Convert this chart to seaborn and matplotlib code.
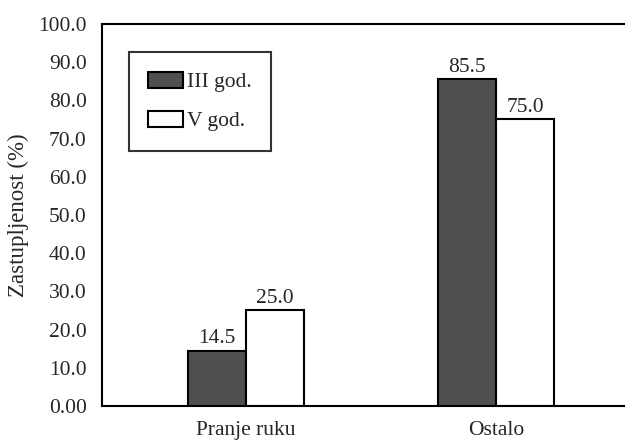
import matplotlib
matplotlib.use("Agg")
import matplotlib.pyplot as plt
import seaborn as sns
import pandas as pd

# podaci
kategorije = ["Pranje ruku", "Ostalo"]
godine = ["III god.", "V god."]
iii_god = [14.5, 85.5]
v_god = [25.0, 75.0]
y_ticks = [0, 10, 20, 30, 40, 50, 60, 70, 80, 90, 100]
y_tick_labels = ["0.00", "10.0", "20.0", "30.0", "40.0", "50.0",
                 "60.0", "70.0", "80.0", "90.0", "100.0"]

df = pd.DataFrame({
    "Kategorija": kategorije * 2,
    "Godina": [godine[0]] * 2 + [godine[1]] * 2,
    "Vrijednost": iii_god + v_god,
})

sns.set_style("white")
plt.rcParams["font.family"] = ["Liberation Serif", "DejaVu Serif"]
fs = 15.5

fig = plt.figure(figsize=(6.25, 4.44), dpi=100)
ax = fig.add_axes([0.1632, 0.0856, 0.861, 0.8604])

sns.barplot(data=df, x="Kategorija", y="Vrijednost", hue="Godina",
            palette=["#4f4f4f", "white"], edgecolor="black", linewidth=1.5,
            width=0.464, gap=0, ax=ax, errorbar=None)

for cont in ax.containers:
    ax.bar_label(cont, fmt="%.1f", padding=2, fontsize=fs)

ax.set_xlim(-0.576, 1.576)
ax.set_ylim(0, 100)
ax.set_yticks(y_ticks)
ax.set_yticklabels(y_tick_labels)
ax.tick_params(axis="both", length=0, labelsize=fs)
ax.tick_params(axis="y", pad=11)
ax.tick_params(axis="x", pad=11)
ax.set_xlabel("")
ax.set_ylabel("Zastupljenost (%)", fontsize=16.5, labelpad=7)

for s in ax.spines.values():
    s.set_color("black")
    s.set_linewidth(1.5)

leg = ax.legend(loc="upper left", bbox_to_anchor=(0.05, 0.926),
                borderaxespad=0, fontsize=fs, frameon=True, fancybox=False,
                handlelength=1.63, handleheight=0.79, labelspacing=0.85,
                handletextpad=0.15, borderpad=0.9, title=None)
leg.get_frame().set_edgecolor("black")
leg.get_frame().set_linewidth(1.5)

plt.savefig("out.png", dpi=100)
